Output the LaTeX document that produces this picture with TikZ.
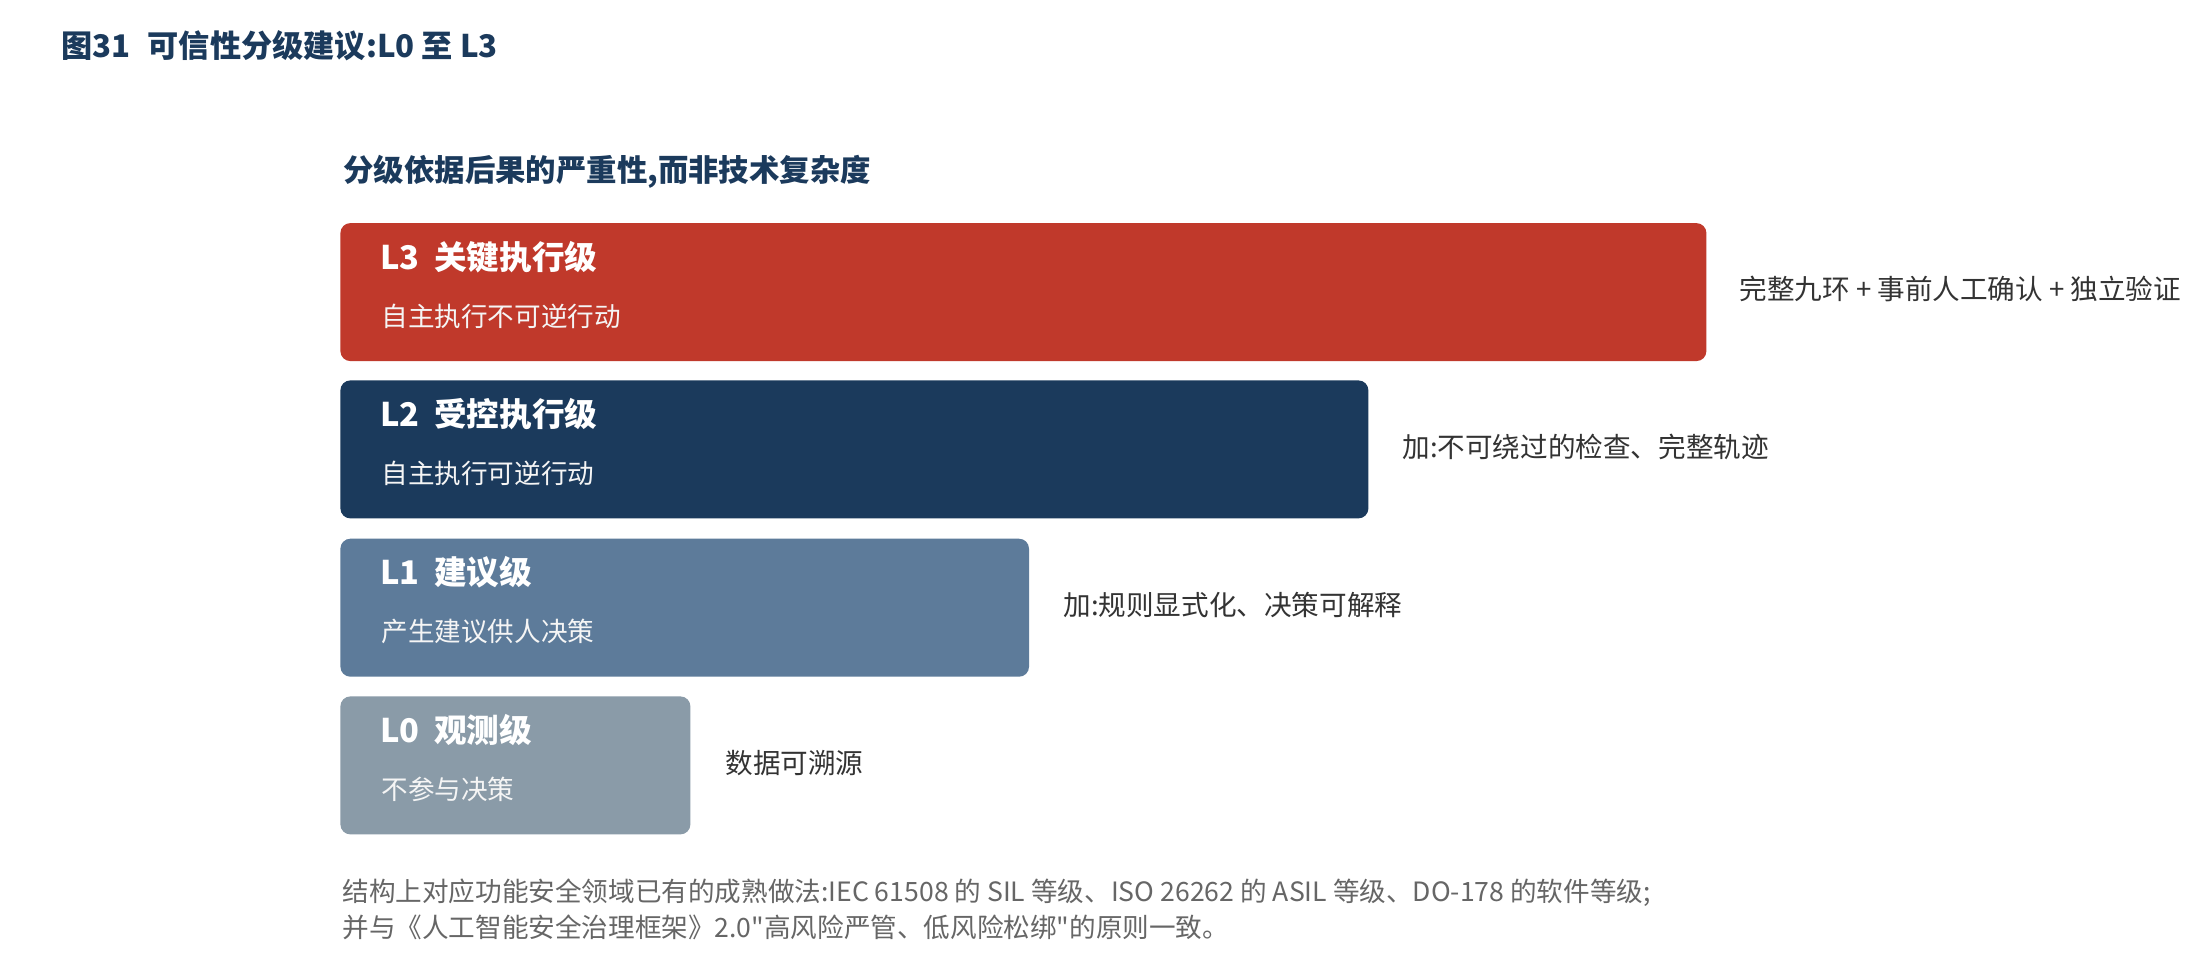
\documentclass[tikz,border=0pt]{standalone}
\usepackage{fontspec}
\setmainfont{Noto Sans CJK SC}
\newfontfamily\notofont{Noto Sans CJK SC}
\definecolor{cred}{HTML}{C0392B}
\definecolor{cnavy}{HTML}{1B3A5C}
\definecolor{cslate}{HTML}{5D7B9A}
\definecolor{cgray}{HTML}{8A9BA8}
\definecolor{ctext}{HTML}{333333}
\definecolor{cfoot}{HTML}{666666}
\begin{document}
\begin{tikzpicture}[x=0.5pt,y=-0.5pt,
  levelbox/.style={draw=none,rounded corners=5pt,inner sep=0pt,anchor=north west},
  leveltitle/.style={anchor=west,inner sep=0pt,text=white,font=\notofont\fontsize{16.3pt}{19pt}\selectfont\bfseries},
  levelsub/.style={anchor=west,inner sep=0pt,text=white!96!black,font=\notofont\fontsize{13.3pt}{16pt}\selectfont},
  sidetext/.style={anchor=west,inner sep=0pt,text=ctext,font=\notofont\fontsize{13.8pt}{16pt}\selectfont},
  foottext/.style={anchor=west,inner sep=0pt,text=cfoot,font=\notofont\fontsize{13.3pt}{16pt}\selectfont}]
\useasboundingbox[fill=white] (0,0) rectangle (2203,962);
\node[anchor=west,inner sep=0pt,text=cnavy,font=\notofont\fontsize{15.6pt}{19pt}\selectfont\bfseries] (title) at (61,46) {图31\hspace{0.55em}可信性分级建议:L0 至 L3};
\node[anchor=west,inner sep=0pt,text=cnavy,font=\notofont\fontsize{15.2pt}{18pt}\selectfont\bfseries] (subtitle) at (343,172) {分级依据后果的严重性,而非技术复杂度};
% L3
\node[levelbox,fill=cred,minimum width=683pt,minimum height=69pt] (b3) at (340,222.7) {};
\node[leveltitle] (t3) at (380,257) {L3\hspace{0.45em}关键执行级};
\node[levelsub] (s3) at (381,316) {自主执行不可逆行动};
\node[sidetext] (r3) at (1739,289) {完整九环 + 事前人工确认 + 独立验证};
% L2
\node[levelbox,fill=cnavy,minimum width=514pt,minimum height=69pt] (b2) at (340,380) {};
\node[leveltitle] (t2) at (380,414.3) {L2\hspace{0.45em}受控执行级};
\node[levelsub] (s2) at (381,473.3) {自主执行可逆行动};
\node[sidetext] (r2) at (1402,446.7) {加:不可绕过的检查、完整轨迹};
% L1
\node[levelbox,fill=cslate,minimum width=344.3pt,minimum height=69pt] (b1) at (340,538.3) {};
\node[leveltitle] (t1) at (380,572.6) {L1\hspace{0.45em}建议级};
\node[levelsub] (s1) at (381,631.6) {产生建议供人决策};
\node[sidetext] (r1) at (1063,605) {加:规则显式化、决策可解释};
% L0
\node[levelbox,fill=cgray,minimum width=175pt,minimum height=69pt] (b0) at (340,696) {};
\node[leveltitle] (t0) at (380,730.3) {L0\hspace{0.45em}观测级};
\node[levelsub] (s0) at (381,789.3) {不参与决策};
\node[sidetext] (r0) at (725,762.7) {数据可溯源};
% footer
\node[foottext] (f1) at (342,893) {结构上对应功能安全领域已有的成熟做法:IEC 61508 的 SIL 等级、ISO 26262 的 ASIL 等级、DO-178 的软件等级;};
\node[foottext] (f2) at (342,927) {并与《人工智能安全治理框架》2.0"高风险严管、低风险松绑"的原则一致。};
\end{tikzpicture}
\end{document}
